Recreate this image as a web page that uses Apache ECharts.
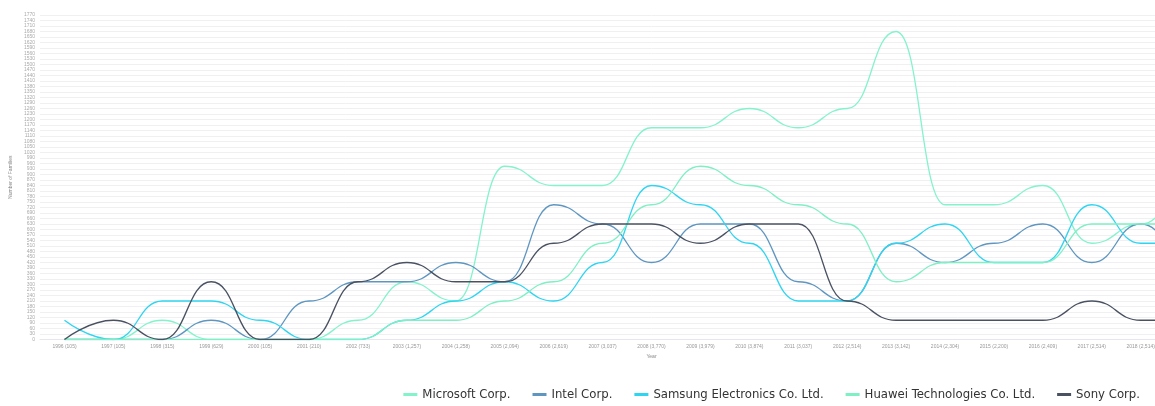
<!DOCTYPE html>
<html>
<head>
<meta charset="utf-8">
<script src="https://cdn.jsdelivr.net/npm/echarts@6/dist/echarts.min.js"></script>
<style>
  html, body { margin: 0; padding: 0; background: #fff; overflow: hidden; }
  /* the original chart is wider than the 1155px shot, so it gets cut on the right */
  #chart { width: 1263px; height: 406px; }
</style>
</head>
<body>
<div id="chart"></div>
<script>
// categories (year + total families); the last two are off the visible edge
var years = ['1996 (105)', '1997 (105)', '1998 (315)', '1999 (629)', '2000 (105)', '2001 (210)',
  '2002 (733)', '2003 (1,257)', '2004 (1,258)', '2005 (2,094)', '2006 (2,619)', '2007 (3,037)',
  '2008 (3,770)', '2009 (3,979)', '2010 (3,874)', '2011 (3,037)', '2012 (2,514)', '2013 (3,142)',
  '2014 (2,304)', '2015 (2,200)', '2016 (2,409)', '2017 (2,514)', '2018 (2,514)', '2019', '2020'];

var microsoft = [0, 0, 105, 0, 0, 0, 105, 315, 210, 945, 840, 840, 1155, 1155, 1260, 1155, 1260, 1680, 735, 735, 840, 525, 630, 840, 840];
var intel     = [0, 0, 0, 105, 0, 210, 315, 315, 420, 315, 735, 630, 420, 630, 630, 315, 210, 525, 420, 525, 630, 420, 630, 420, 420];
var samsung   = [105, 0, 210, 210, 105, 0, 0, 105, 210, 315, 210, 420, 840, 735, 525, 210, 210, 525, 630, 420, 420, 735, 525, 525, 525];
var huawei    = [0, 0, 0, 0, 0, 0, 0, 105, 105, 210, 315, 525, 735, 945, 840, 735, 630, 315, 420, 420, 420, 630, 630, 630, 630];
var sony      = [0, 105, 0, 315, 0, 0, 315, 420, 315, 315, 525, 630, 630, 525, 630, 630, 210, 105, 105, 105, 105, 210, 105, 105, 105];

var names = ['Microsoft Corp.', 'Intel Corp.', 'Samsung Electronics Co. Ltd.', 'Huawei Technologies Co. Ltd.', 'Sony Corp.'];
var colors = ['#84f3cb', '#5f96c0', '#2fd5f0', '#7fefc4', '#4a5262'];
var values = [microsoft, intel, samsung, huawei, sony];

var myChart = echarts.init(document.getElementById('chart'));

var series = names.map(function (n, i) {
  return {
    name: n,
    type: 'line',
    data: values[i],
    smooth: 0.5,
    smoothMonotone: 'x',
    symbol: 'none',
    lineStyle: { width: 1.3, color: colors[i] },
    itemStyle: { color: colors[i] }
  };
});

myChart.setOption({
  animation: false,
  backgroundColor: '#fff',
  grid: {
    left: 33,
    right: 0,
    top: 15,
    bottom: 66.5
  },
  legend: {
    bottom: 0,
    right: 118,
    itemWidth: 14,
    itemHeight: 3,
    itemGap: 22,
    icon: 'rect',
    textStyle: { color: '#333', fontSize: 13, fontFamily: 'Liberation Sans Narrow, DejaVu Sans Condensed, sans-serif' }
  },
  xAxis: {
    type: 'category',
    data: years,
    boundaryGap: true,
    name: 'Year',
    nameLocation: 'middle',
    nameGap: 12,
    nameTextStyle: { fontSize: 5, color: '#888' },
    axisLine: { lineStyle: { color: '#e6e6ee' } },
    axisTick: { show: false },
    axisLabel: { interval: 0, fontSize: 5, color: '#999', margin: 5 }
  },
  yAxis: {
    type: 'value',
    min: 0,
    max: 1770,
    interval: 30,
    name: 'Number of Families',
    nameLocation: 'middle',
    nameRotate: 90,
    nameGap: 24,
    nameTextStyle: { fontSize: 5, color: '#888' },
    axisLine: { show: false },
    axisTick: { show: false },
    axisLabel: { fontSize: 5, color: '#aaa', margin: 5, formatter: function (v) { return String(v); } },
    splitLine: { lineStyle: { color: '#f0f0f3', width: 1 } }
  },
  series: series
});
</script>
</body>
</html>
